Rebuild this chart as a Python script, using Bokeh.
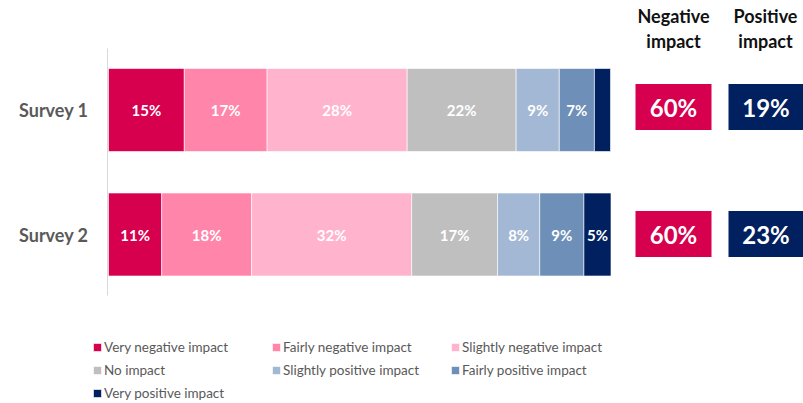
from bokeh.plotting import figure
from bokeh.models import ColumnDataSource, Range1d, Legend, LegendItem
from bokeh.core.properties import value
from bokeh.embed import file_html
from bokeh.resources import INLINE

# ---------------- data ----------------
surveys = ["Survey 1", "Survey 2"]
categories = ["Very negative impact", "Fairly negative impact", "Slightly negative impact",
              "No impact", "Slightly positive impact", "Fairly positive impact",
              "Very positive impact"]
survey1_values = [15.1, 16.5, 27.9, 21.7, 8.6, 7.0, 3.2]
survey2_values = [10.6, 17.9, 31.9, 17.1, 8.4, 8.8, 5.4]
survey1_labels = ["15%", "17%", "28%", "22%", "9%", "7%", ""]
survey2_labels = ["11%", "18%", "32%", "17%", "8%", "9%", "5%"]
negative_totals = ["60%", "60%"]
positive_totals = ["19%", "23%"]
header_top = ["Negative", "Positive"]
header_bottom = ["impact", "impact"]
colors = ["#D6004F", "#FF85AB", "#FFB3CC", "#BFBFBF", "#A3B8D4", "#6E8FB8", "#002060"]

# ---------------- layout constants (screen px) ----------------
W, H = 803, 403
BAR0_PX, BAR100_PX = 108, 610
PX_PER_UNIT = (BAR100_PX - BAR0_PX) / 100.0
ROW1_PX, ROW2_PX = 109.5, 234.0
ROW_PX = ROW2_PX - ROW1_PX

def px_x(sx):
    return (sx - BAR0_PX) / PX_PER_UNIT

def px_y(sy):
    return 1 - (sy - ROW1_PX) / ROW_PX

row_y = [1, 0]  # Survey 1 on top

FONT = "Lato"

p = figure(width=W, height=H, output_backend="svg", toolbar_location=None,
           x_range=Range1d(px_x(0), px_x(W)),
           y_range=Range1d(px_y(H), px_y(0)),
           min_border=0, x_axis_location=None, y_axis_location=None)
p.outline_line_color = None
p.xgrid.visible = False
p.ygrid.visible = False
p.background_fill_color = "white"
p.border_fill_color = "white"

# category axis line and labels
p.segment(x0=[px_x(107)], y0=[px_y(48)], x1=[px_x(107)], y1=[px_y(295)],
          line_color="#D9D9D9", line_width=1)
p.text(x=[px_x(88)] * 2, y=row_y, text=surveys, text_color="#595959",
       text_font=value(FONT), text_font_style="bold", text_font_size="18px",
       text_align="right", text_baseline="middle")

# stacked bars
bar_h = 83 / ROW_PX
renderers = []
all_vals = [survey1_values, survey2_values]
all_labels = [survey1_labels, survey2_labels]
lefts = [0.0, 0.0]
for i, cat in enumerate(categories):
    l = [lefts[k] for k in range(2)]
    r = [lefts[k] + all_vals[k][i] for k in range(2)]
    src = ColumnDataSource(dict(y=row_y, left=l, right=r,
                                xc=[(a + b) / 2 for a, b in zip(l, r)],
                                lab=[all_labels[0][i], all_labels[1][i]]))
    rr = p.hbar(y="y", left="left", right="right", height=bar_h, source=src,
                fill_color=colors[i], line_color="white", line_width=0.6)
    renderers.append(rr)
    p.text(x="xc", y="y", text="lab", source=src, text_color="white",
           text_font=value(FONT), text_font_style="bold", text_font_size="15px",
           text_align="center", text_baseline="middle")
    lefts = r

# summary boxes
neg_l, neg_r = px_x(635), px_x(711)
pos_l, pos_r = px_x(728), px_x(803)
box_h = 46 / ROW_PX
box_src = ColumnDataSource(dict(y=[px_y(106.5), px_y(233.5)], neg=negative_totals,
                                pos=positive_totals,
                                nx=[(neg_l + neg_r) / 2] * 2, px=[(pos_l + pos_r) / 2] * 2))
p.rect(x="nx", y="y", width=neg_r - neg_l, height=box_h, source=box_src,
       fill_color="#D6004F", line_color=None)
p.rect(x="px", y="y", width=pos_r - pos_l, height=box_h, source=box_src,
       fill_color="#002060", line_color=None)
p.text(x="nx", y="y", text="neg", source=box_src, text_color="white",
       text_font=value(FONT), text_font_style="bold", text_font_size="24px",
       text_align="center", text_baseline="middle")
p.text(x="px", y="y", text="pos", source=box_src, text_color="white",
       text_font=value(FONT), text_font_style="bold", text_font_size="24px",
       text_align="center", text_baseline="middle")

# headers
hx = [px_x(673), px_x(765)]
p.text(x=hx, y=[px_y(15.5)] * 2, text=header_top, text_color="#111111",
       text_font=value(FONT), text_font_style="bold", text_font_size="18px",
       text_align="center", text_baseline="middle")
p.text(x=hx, y=[px_y(40)] * 2, text=header_bottom, text_color="#111111",
       text_font=value(FONT), text_font_style="bold", text_font_size="18px",
       text_align="center", text_baseline="middle")

# legend
legend = Legend(items=[LegendItem(label=c, renderers=[r]) for c, r in zip(categories, renderers)],
                ncols=3, orientation="horizontal", location=(92, 1),
                glyph_width=10, glyph_height=10, label_standoff=2,
                label_width=162, label_height=18, spacing=5,
                padding=0, margin=0, border_line_color=None,
                background_fill_alpha=0,
                label_text_font=FONT, label_text_font_size="13.5px",
                label_text_color="#595959")
p.add_layout(legend, "center")

open("out.html", "w").write(file_html(p, INLINE))
